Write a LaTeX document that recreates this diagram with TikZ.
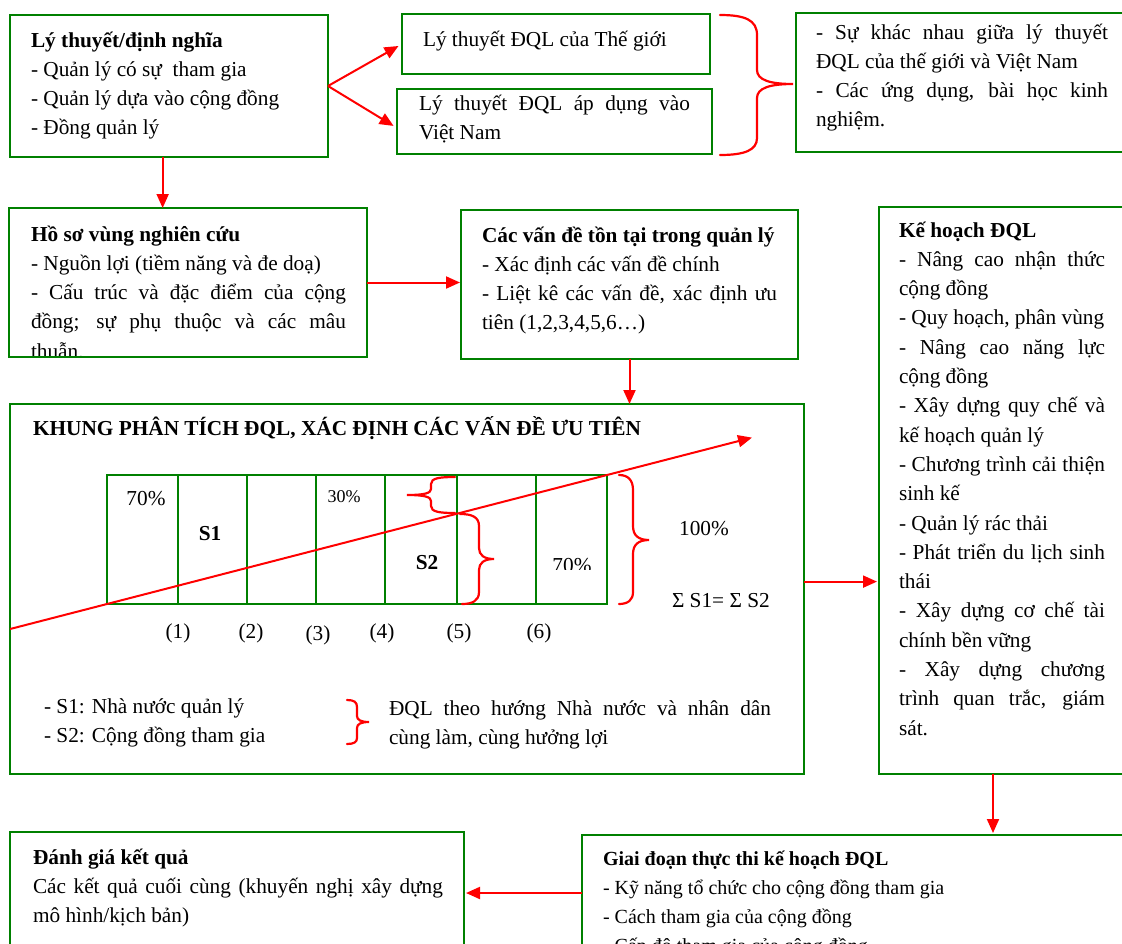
\documentclass[tikz,border=0pt]{standalone}
\usepackage{fontspec}
\setmainfont{Liberation Serif}
\usetikzlibrary{arrows.meta,calc}
\definecolor{dgreen}{RGB}{0,128,0}
\hyphenpenalty=10000
\exhyphenpenalty=10000
\tikzset{
  box/.style={draw=dgreen, line width=2.5pt, rectangle, inner sep=0pt, outer sep=0pt, anchor=north west},
  txt/.style={inner sep=0pt, outer sep=0pt, anchor=base west, font=\fontsize{21.3}{29.3}\selectfont},
  jtxt/.style={txt, align=justify},
  lbl/.style={inner sep=0pt, outer sep=0pt, anchor=base, font=\fontsize{21.3}{25}\selectfont},
  arr/.style={draw=red, line width=2pt, -{Triangle[length=14pt,width=12pt]}},
  brace/.style={draw=red, line width=2.2pt, line cap=round},
  gridline/.style={draw=dgreen, line width=2.5pt},
}
\begin{document}
\begin{tikzpicture}[x=1pt, y=-1pt]
\useasboundingbox (0,0) rectangle (1122,943);
\clip (0,0) rectangle (1122,943);

% ---------- boxes ----------
\node[box, minimum width=318pt, minimum height=142pt] (b1) at (10,15) {};
\node[box, minimum width=308pt, minimum height=60pt]  (b2) at (402,14) {};
\node[box, minimum width=315pt, minimum height=65pt]  (b3) at (397,89) {};
\node[box, minimum width=360pt, minimum height=139pt] (b4) at (796,13) {};
\node[box, minimum width=337pt, minimum height=149pt] (b6) at (461,210) {};
\node[box, minimum width=794pt, minimum height=370pt] (b7) at (10,404) {};
\node[box, minimum width=280pt, minimum height=567pt] (b8) at (879,207) {};
\node[box, minimum width=580pt, minimum height=140pt] (b9) at (582,835) {};
\node[box, minimum width=454pt, minimum height=140pt] (b10) at (10,832) {};

% profile box: its last line runs under the bottom border
\begin{scope}
  \clip (9,208) rectangle (367,357);
  \node[jtxt, text width=315pt] (t5) at (31,241)
    {\textbf{Hồ sơ vùng nghiên cứu}\par
     - Nguồn lợi (tiềm năng và đe doạ)\par
     - Cấu trúc và đặc điểm của cộng\linebreak đồng; sự phụ thuộc và các mâu\linebreak thuẫn.};
\end{scope}
\node[box, minimum width=358pt, minimum height=149pt] (b5) at (9,208) {};

% ---------- texts ----------
\node[jtxt, text width=290pt] (t1) at (31,47)
  {\textbf{Lý thuyết/định nghĩa}\par
   - Quản lý có sự\ \ tham gia\par
   - Quản lý dựa vào cộng đồng\par
   - Đồng quản lý};
\node[txt] (t2) at (423,46) {Lý thuyết ĐQL của Thế giới};
\node[jtxt, text width=271pt] (t3) at (419,110)
  {Lý thuyết ĐQL áp dụng vào\linebreak Việt Nam};
\node[jtxt, text width=292pt] (t4) at (816,39)
  {- Sự khác nhau giữa lý thuyết\linebreak ĐQL của thế giới và Việt Nam\par
   - Các ứng dụng, bài học kinh\linebreak nghiệm.};
\node[jtxt, text width=295pt] (t6) at (482,242)
  {\textbf{Các vấn đề tồn tại trong quản lý}\par
   - Xác định các vấn đề chính\par
   - Liệt kê các vấn đề, xác định ưu\linebreak tiên (1,2,3,4,5,6…)};
\node[txt] (t7) at (33,435)
  {\textbf{KHUNG PHÂN TÍCH ĐQL, XÁC ĐỊNH CÁC VẤN ĐỀ ƯU TIÊN}};
\node[jtxt, text width=206pt] (t8) at (899,237)
  {\textbf{Kế hoạch ĐQL}\par
   - Nâng cao nhận thức\linebreak cộng đồng\par
   - Quy hoạch, phân vùng\par
   - Nâng cao năng lực\linebreak cộng đồng\par
   - Xây dựng quy chế và\linebreak kế hoạch quản lý\par
   - Chương trình cải thiện\linebreak sinh kế\par
   - Quản lý rác thải\par
   - Phát triển du lịch sinh\linebreak thái\par
   - Xây dựng cơ chế tài\linebreak chính bền vững\par
   - Xây dựng chương\linebreak trình quan trắc, giám\linebreak sát.};
\node[jtxt, text width=500pt, font=\fontsize{20}{29.2}\selectfont] (t9) at (603,865)
  {\textbf{Giai đoạn thực thi kế hoạch ĐQL}\par
   - Kỹ năng tổ chức cho cộng đồng tham gia\par
   - Cách tham gia của cộng đồng\par
   - Cấp độ tham gia của cộng đồng};
\node[jtxt, text width=410pt] (t10) at (33,864)
  {\textbf{Đánh giá kết quả}\par
   Các kết quả cuối cùng (khuyến nghị xây dựng\linebreak mô hình/kịch bản)};

% ---------- analysis frame: grid ----------
\draw[gridline] (107,475) rectangle (607,604);
\foreach \cx in {178,247,316,385,457,536}
  \draw[gridline] (\cx,475) -- (\cx,604);
\coordinate (gbl) at (107,604);
\coordinate (gtr) at (607,475);

\node[lbl] (p70a) at (146,505) {70\%};
\node[lbl] (s1) at (210,540) {\textbf{S1}};
\node[lbl, font=\fontsize{18}{22}\selectfont] (p30) at (344,502) {30\%};
\node[lbl] (s2) at (427,569) {\textbf{S2}};
\begin{scope}
  \clip (540,540) rectangle (605,569.5);
  \node[lbl] (p70b) at (572,572) {70\%};
\end{scope}
\node[lbl] (p100) at (704,535) {100\%};
\node[txt] (sum) at (672,607) {Σ S1= Σ S2};

\node[lbl] (n1) at (178,638) {(1)};
\node[lbl] (n2) at (251,638) {(2)};
\node[lbl] (n3) at (318,640) {(3)};
\node[lbl] (n4) at (382,638) {(4)};
\node[lbl] (n5) at (459,638) {(5)};
\node[lbl] (n6) at (539,638) {(6)};

\node[jtxt, text width=300pt] (leg1) at (44,713)
  {- S1: Nhà nước quản lý\par - S2: Cộng đồng tham gia};
\node[jtxt, text width=382pt] (leg2) at (389,715)
  {ĐQL theo hướng Nhà nước và nhân dân\linebreak cùng làm, cùng hưởng lợi};

% rising trend line through the grid corners
\coordinate (d0) at ($(gbl)!-0.194!(gtr)$);
\coordinate (d1) at ($(gbl)!1.29!(gtr)$);
\draw[arr] (d0) -- (d1);

% ---------- braces ----------
\draw[brace] (720,15) .. controls (745,15) and (757,20) .. (757,35) -- (757,70)
  .. controls (757,80) and (770,84) .. (793,84)
  .. controls (770,84) and (757,88) .. (757,98) -- (757,138)
  .. controls (757,150) and (745,155) .. (720,155);
\draw[brace] (455,477) .. controls (440,477) and (431,478) .. (431,484) -- (431,489)
  .. controls (431,493) and (425,495) .. (407,495)
  .. controls (425,495) and (431,497) .. (431,501) -- (431,506)
  .. controls (431,512) and (440,513) .. (455,513);
\draw[brace] (460,514) .. controls (472,514) and (479,517) .. (479,526) -- (479,548)
  .. controls (479,555) and (484,559) .. (494,559)
  .. controls (484,559) and (479,563) .. (479,570) -- (479,592)
  .. controls (479,601) and (472,604) .. (462,604);
\draw[brace] (619,475) .. controls (628,475) and (633,480) .. (633,490) -- (633,526)
  .. controls (633,535) and (638,540) .. (649,540)
  .. controls (638,540) and (633,545) .. (633,554) -- (633,592)
  .. controls (633,600) and (628,604) .. (619,604);
\draw[brace] (347,700) .. controls (354,700) and (357,702) .. (357,707) -- (357,716)
  .. controls (357,720) and (361,722) .. (369,722)
  .. controls (361,722) and (357,724) .. (357,728) -- (357,738)
  .. controls (357,742) and (354,744) .. (347,744);

% ---------- connectors ----------
\draw[arr, shorten >=4pt] (b1.east) -- (b2.west);
\draw[arr, shorten >=4pt] (b1.east) -- ($(b3.south west)!0.4!(b3.north west)$);
\coordinate (a15) at ($(b1.south west)!0.48!(b1.south east)$);
\draw[arr] (a15) -- (a15 |- b5.north);
\draw[arr, shorten >=1pt] (b5.east) -- (b5.east -| b6.west);
\draw[arr] (b6.south) -- (b6.south |- b7.north);
\coordinate (a78) at ($(b7.south east)!0.52!(b7.north east)$);
\draw[arr, shorten >=2pt] (a78) -- (a78 -| b8.west);
\coordinate (a89) at ($(b8.south west)+(114,0)$);
\draw[arr, shorten >=2pt] (a89) -- (a89 |- b9.north);
\coordinate (a910) at ($(b9.north west)+(0,58)$);
\draw[arr, shorten >=2pt] (a910) -- (a910 -| b10.east);
\end{tikzpicture}
\end{document}
